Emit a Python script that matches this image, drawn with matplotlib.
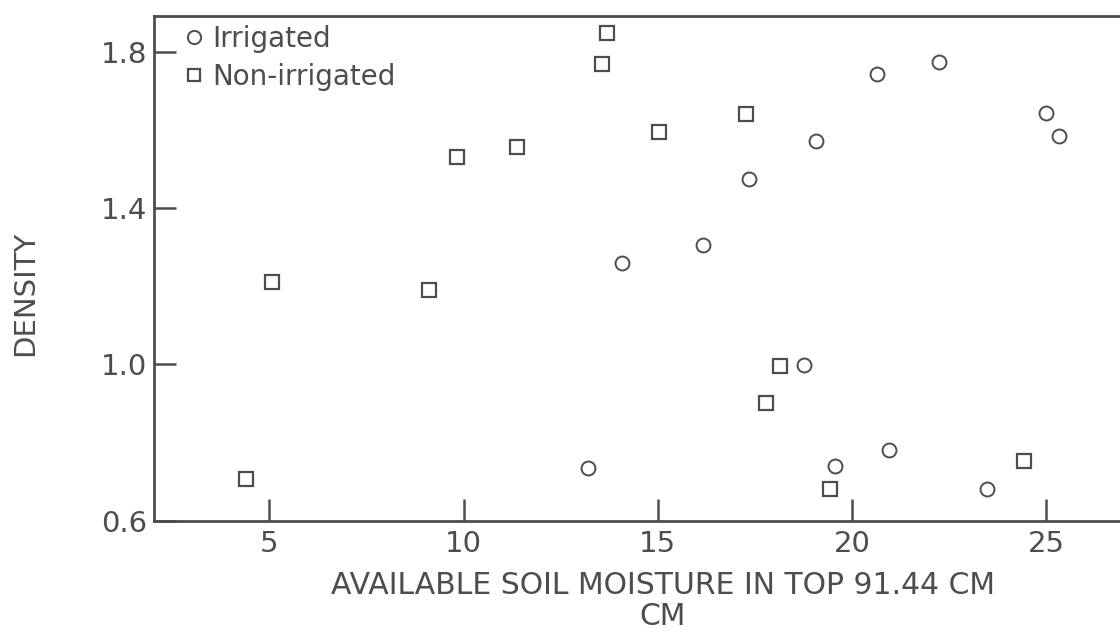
import matplotlib
matplotlib.use("Agg")
import matplotlib.pyplot as plt

# Available soil moisture (cm) and density for each plot
irrigated_moisture = [13.21, 14.09, 16.16, 17.36, 19.07, 20.64, 22.23, 25.00, 25.33,
                      18.76, 19.56, 20.95, 23.48]
irrigated_density = [0.736, 1.259, 1.307, 1.475, 1.573, 1.744, 1.773, 1.644, 1.585,
                     0.999, 0.740, 0.782, 0.681]

nonirrigated_moisture = [5.06, 4.41, 9.12, 9.82, 11.37, 13.70, 13.57, 15.02, 17.26,
                         18.15, 17.79, 19.44, 24.43]
nonirrigated_density = [1.212, 0.706, 1.191, 1.532, 1.557, 1.848, 1.768, 1.596, 1.642,
                        0.997, 0.902, 0.682, 0.753]

x_ticks = [5, 10, 15, 20, 25]
y_ticks = [0.6, 1.0, 1.4, 1.8]
y_tick_labels = ["0.6", "1.0", "1.4", "1.8"]

series_labels = ["Irrigated", "Non-irrigated"]
x_label = "AVAILABLE SOIL MOISTURE IN TOP 91.44 CM\nCM"
y_label = "DENSITY"

INK = "#4d4d4d"
W, H = 1120, 633

plt.rcParams["font.family"] = ["DejaVu Sans"]

fig = plt.figure(figsize=(W / 100, H / 100), dpi=100)
fig.patch.set_facecolor("white")

left_px, right_px, top_px, bottom_px = 154, 1120, 16, 520.7
ax = fig.add_axes([left_px / W, (H - bottom_px) / H,
                   (right_px - left_px) / W, (bottom_px - top_px) / H])

ax.plot(irrigated_moisture, irrigated_density, linestyle="none", marker="o",
        markersize=10, markerfacecolor="none", markeredgecolor=INK,
        markeredgewidth=1.4, label=series_labels[0], clip_on=False)
ax.plot(nonirrigated_moisture, nonirrigated_density, linestyle="none", marker="s",
        markersize=9.5, markerfacecolor="none", markeredgecolor=INK,
        markeredgewidth=1.6, label=series_labels[1], clip_on=False)

ax.set_xlim(2.03, 26.9)
ax.set_ylim(0.6, 1.892)

ax.set_xticks(x_ticks)
ax.set_xticklabels([str(t) for t in x_ticks])
ax.set_yticks(y_ticks)
ax.set_yticklabels(y_tick_labels)

ax.spines["right"].set_visible(False)
for side in ("left", "top", "bottom"):
    ax.spines[side].set_color(INK)
    ax.spines[side].set_linewidth(2.0)

ax.tick_params(axis="both", direction="in", length=16, width=1.8, color=INK,
               labelcolor=INK, labelsize=21)
ax.tick_params(axis="x", pad=7)
ax.tick_params(axis="y", pad=5)
ax.tick_params(top=False, right=False)

leg = ax.legend(loc="upper left", bbox_to_anchor=(186 / W, 1 - 25 / H),
                bbox_transform=fig.transFigure, frameon=False, fontsize=20,
                handlelength=0.55, handletextpad=0.4, labelspacing=0.35,
                borderpad=0, borderaxespad=0, markerscale=0.95)
for txt in leg.get_texts():
    txt.set_color(INK)

fig.text(663 / W, 1 - 571 / H, x_label, ha="center", va="top",
         multialignment="center", fontsize=21.5, color=INK, linespacing=1.08)
fig.text(25 / W, 1 - 293 / H, y_label, ha="center", va="center",
         rotation=90, fontsize=21, color=INK)

fig.savefig("out.png", dpi=100, facecolor="white")
